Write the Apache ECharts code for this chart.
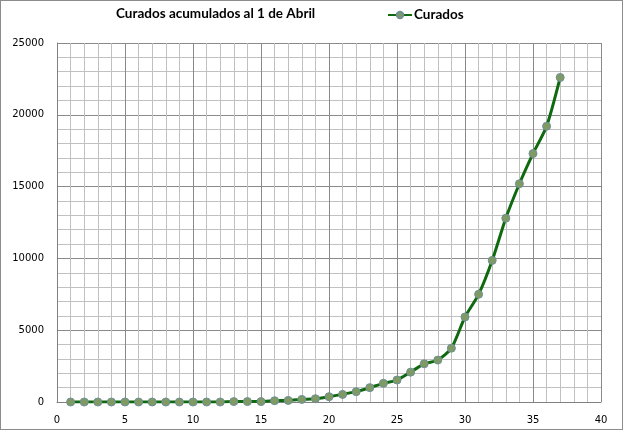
<!DOCTYPE html>
<html>
<head>
<meta charset="utf-8">
<script src="https://cdn.jsdelivr.net/npm/echarts@6/dist/echarts.min.js"></script>
<style>
html,body{margin:0;padding:0;background:#fff;}
#c{width:623px;height:430px;box-sizing:border-box;border:1px solid #8c8c8c;}
</style>
</head>
<body>
<div id="c"></div>
<script>
const days = [1,2,3,4,5,6,7,8,9,10,11,12,13,14,15,16,17,18,19,20,21,22,23,24,25,26,27,28,29,30,31,32,33,34,35,36,37];
const curados = [0,0,0,0,0,0,0,0,0,0,0,0,30,30,30,90,110,180,230,370,530,720,1000,1300,1530,2080,2660,2920,3750,5920,7500,9860,12800,15200,17300,19200,22600];
const titleText = 'Curados acumulados al 1 de Abril';
const seriesName = 'Curados';

const chart = echarts.init(document.getElementById('c'), null, {renderer:'canvas'});
const axisFont = {fontFamily:'DejaVu Sans', fontSize:10, color:'#000'};
const titleFont = {fontFamily:'Lato', fontWeight:'bold', fontSize:13.5, color:'#000'};
chart.setOption({
  animation:false,
  title:{text:titleText, left:110, top:1, textStyle:titleFont},
  legend:{data:[seriesName], left:381, top:2, itemWidth:24, itemHeight:8, itemGap:2,
    textStyle:Object.assign({padding:[0,0,0,-3]}, titleFont)},
  grid:{left:56, right:21, top:42, bottom:27},
  xAxis:{type:'value', min:0, max:40, interval:5,
    axisLine:{show:true, onZero:false, lineStyle:{color:'#808080'}},
    axisTick:{show:false},
    axisLabel:Object.assign({margin:13}, axisFont),
    splitLine:{show:true, lineStyle:{color:'#8a8a8a', width:1}},
    minorTick:{show:false, splitNumber:5},
    minorSplitLine:{show:true, lineStyle:{color:'#c0c0c0', width:1}}
  },
  yAxis:{type:'value', min:0, max:25000, interval:5000,
    axisLine:{show:true, lineStyle:{color:'#808080'}},
    axisTick:{show:false},
    axisLabel:Object.assign({margin:13, formatter:v=>String(v)}, axisFont),
    splitLine:{show:true, lineStyle:{color:'#8a8a8a', width:1}},
    minorTick:{show:false, splitNumber:5},
    minorSplitLine:{show:true, lineStyle:{color:'#c0c0c0', width:1}}
  },
  series:[{
    name:seriesName, type:'line', smooth:0.25,
    data:days.map((d,i)=>[d,curados[i]]),
    symbol:'circle', symbolSize:8,
    lineStyle:{color:'#0f690f', width:3},
    itemStyle:{color:'#7f9a63', borderColor:'#6f8f99', borderWidth:1}
  }]
});
</script>
</body>
</html>
